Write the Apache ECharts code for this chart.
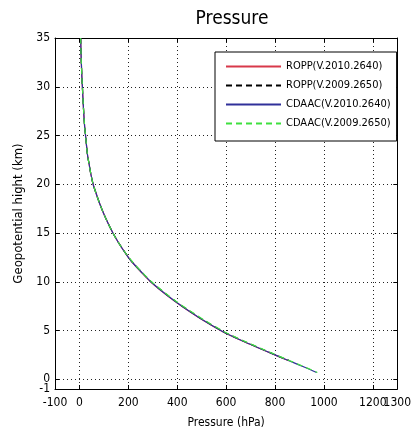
<!DOCTYPE html>
<html>
<head>
<meta charset="utf-8">
<script src="https://cdn.jsdelivr.net/npm/echarts@6/dist/echarts.min.js"></script>
<style>
    html, body { margin: 0; padding: 0; background: #fff; }
    #chart { width: 414px; height: 436px; }
</style>
</head>
<body>
<div id="chart"></div>
<script>
// geopotential height (km) shared by all profiles
const heightKm = [35, 33, 31, 30, 28, 26, 25, 23, 22, 21, 20, 19, 18, 17, 16, 15, 14, 13, 12.5, 12,
    11, 10, 9, 8, 7, 6, 5, 4.7, 4, 3, 2.7, 2, 1.9, 1.5, 1, 0.7];

// pressure (hPa) per profile
const roppNew = [5, 7, 10, 12, 16, 21, 25, 33, 40, 47, 56, 69, 83, 99, 117, 137, 160, 186, 200, 216,
    252, 291, 338, 390, 447, 509, 577, 600, 660, 752, 780, 846, 856];
const roppOld = [5, 7, 10, 12, 16, 21, 25, 33, 40, 47, 56, 69, 83, 99, 117, 137, 160, 187, 201, 217,
    254, 293, 341, 393, 450, 512, 580, 603, 663, 755, 783, 849, 859];
const cdaacNew = [5, 7, 10, 12, 16, 21, 25, 33, 40, 47, 56, 69, 83, 99, 117, 137, 160, 186, 200, 216,
    253, 292, 339, 391, 448, 510, 578, 601, 661, 753, 781, 847, 857, 895, 943, 970];
const cdaacOld = [5, 7, 10, 12, 16, 21, 25, 33, 40, 47, 56, 69, 83, 99, 117, 137, 160, 187, 202, 218,
    255, 295, 343, 395, 453, 515, 583, 606, 666, 757, 785, 851, 861, 898, 946, 973];

const seriesNames = ["ROPP(V.2010.2640)", "ROPP(V.2009.2650)", "CDAAC(V.2010.2640)", "CDAAC(V.2009.2650)"];
const xTicks = [-100, 0, 200, 400, 600, 800, 1000, 1200, 1300];
const yTicks = [-1, 0, 5, 10, 15, 20, 25, 30, 35];
// labels split over two axes so the crowded ends are not dropped
const xLabelsMain = [0, 200, 400, 600, 800, 1000, 1200];
const xLabelsEnds = [-100, 1300];
const yLabelsMain = [0, 5, 10, 15, 20, 25, 30, 35];
const yLabelsEnds = [-1];

(function () {
    let chart = echarts.init(document.querySelector("#chart"));
    const font = "'Liberation Sans Narrow', 'DejaVu Sans Condensed', 'Liberation Sans', sans-serif";

    function profile(p) {
        return p.map((v, i) => [v, heightKm[i]]);
    }

    // 虚线网格 + 内侧刻度
    const dotted = { show: true, lineStyle: { color: "#222", type: [1, 3], width: 1 } };
    const axisLine = { show: true, onZero: false, lineStyle: { color: "#000", width: 1 } };

    function tickLabel(values, margin) {
        return {
            customValues: values,
            color: "#000",
            fontSize: 12,
            fontFamily: font,
            margin: margin,
            hideOverlap: false,
            formatter: v => String(v)
        };
    }

    function ticks(values, show) {
        return { show: show, inside: true, length: 4, customValues: values, lineStyle: { color: "#000" } };
    }

    function lineSeries(name, p, color, type) {
        return {
            name: name,
            type: "line",
            data: profile(p),
            showSymbol: false,
            symbol: "none",
            smooth: 0.3,
            lineStyle: { color: color, width: 1.2, type: type },
            itemStyle: { color: color },
            animation: false
        };
    }

    let option = {
        backgroundColor: "#fff",
        textStyle: { fontFamily: font },
        title: {
            text: "Pressure",
            left: 227,
            top: 5,
            textAlign: "center",
            textStyle: { fontFamily: font, fontSize: 19, fontWeight: "normal", color: "#000" }
        },
        grid: { left: 55, right: 11, top: 38, bottom: 47, containLabel: false },
        legend: {
            orient: "vertical",
            left: 215,
            top: 52,
            padding: [9, 6, 12, 10],
            itemWidth: 55,
            itemHeight: 12,
            itemGap: 8,
            borderColor: "#000",
            borderWidth: 1,
            backgroundColor: "#fff",
            itemStyle: { opacity: 0 },
            textStyle: { fontFamily: font, fontSize: 11, color: "#000" },
            data: seriesNames
        },
        xAxis: [
            {
                type: "value",
                min: -100,
                max: 1300,
                position: "bottom",
                name: "Pressure (hPa)",
                nameLocation: "middle",
                nameGap: 28,
                nameTextStyle: { fontFamily: font, fontSize: 12, color: "#000" },
                axisLine: axisLine,
                axisTick: ticks(xTicks, true),
                axisLabel: tickLabel(xLabelsMain, 8),
                splitLine: dotted
            },
            {
                type: "value",
                min: -100,
                max: 1300,
                position: "top",
                axisLine: axisLine,
                axisTick: ticks(xTicks, true),
                axisLabel: { show: false },
                splitLine: { show: false }
            },
            {
                type: "value",
                min: -100,
                max: 1300,
                position: "bottom",
                offset: 0,
                axisLine: { show: false },
                axisTick: { show: false },
                axisLabel: tickLabel(xLabelsEnds, 8),
                splitLine: { show: false }
            }
        ],
        yAxis: [
            {
                type: "value",
                min: -1,
                max: 35,
                position: "left",
                name: "Geopotential hight (km)",
                nameLocation: "middle",
                nameGap: 26,
                nameTextStyle: { fontFamily: font, fontSize: 13, color: "#000" },
                axisLine: axisLine,
                axisTick: ticks(yTicks, true),
                axisLabel: tickLabel(yLabelsMain, 5),
                splitLine: dotted
            },
            {
                type: "value",
                min: -1,
                max: 35,
                position: "right",
                axisLine: axisLine,
                axisTick: ticks(yTicks, true),
                axisLabel: { show: false },
                splitLine: { show: false }
            },
            {
                type: "value",
                min: -1,
                max: 35,
                position: "left",
                offset: 0,
                axisLine: { show: false },
                axisTick: { show: false },
                axisLabel: tickLabel(yLabelsEnds, 5),
                splitLine: { show: false }
            }
        ],
        series: [
            lineSeries(seriesNames[0], roppNew, "#d8384a", "solid"),
            lineSeries(seriesNames[1], roppOld, "#000000", [6, 4]),
            lineSeries(seriesNames[2], cdaacNew, "#30309a", "solid"),
            lineSeries(seriesNames[3], cdaacOld, "#3ee03e", [6, 4])
        ]
    };

    chart.setOption(option);
})();
</script>
</body>
</html>
